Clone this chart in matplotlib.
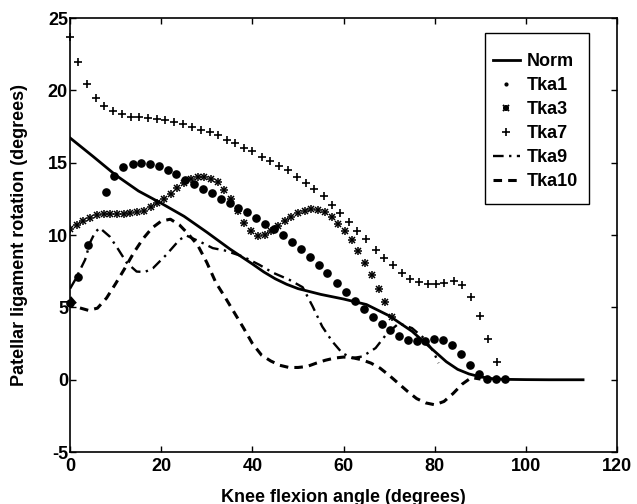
import matplotlib
matplotlib.use("Agg")
import matplotlib.pyplot as plt
from matplotlib.lines import Line2D
from matplotlib.patches import Rectangle

plt.rcParams['font.family'] = ['Liberation Sans', 'DejaVu Sans']
plt.rcParams['axes.unicode_minus'] = False

# ---------------------------------------------------------------------------
# Data (knee flexion angle in degrees, rotation in degrees)
# ---------------------------------------------------------------------------
norm_x = [0, 5, 10, 15, 20, 25, 30, 35, 40, 42.5, 45, 47.5, 50, 55, 60, 65,
          70, 75, 77.5, 80, 82.5, 85, 87.5, 90, 92.5, 95, 100, 105, 110, 112.5]
norm_y = [16.72, 15.45, 14.15, 13.05, 12.2, 11.3, 10.2, 9.05, 8.0, 7.45, 6.98,
          6.6, 6.3, 5.9, 5.58, 5.2, 4.42, 3.35, 2.65, 1.95, 1.25, 0.72, 0.4,
          0.2, 0.08, 0.03, 0.01, 0.0, 0.0, 0.0]

tka1_x = [0, 1.8, 4.0, 7.9, 9.7, 11.6, 13.7, 15.6, 17.5, 19.5, 21.5, 23.3,
          25.1, 27.1, 29.1, 31.2, 33.1, 35.1, 36.9, 38.8, 40.8, 42.8, 44.7,
          46.6, 48.6, 50.6, 52.6, 54.5, 56.4, 58.5, 60.5, 62.5, 64.5, 66.4,
          68.3, 70.1, 72.1, 74.1, 76.0, 77.9, 79.9, 81.8, 83.7, 85.7, 87.6,
          89.6, 91.5, 93.4, 95.4]
tka1_y = [5.3, 7.1, 9.3, 13.0, 14.1, 14.7, 14.9, 15.0, 14.95, 14.75, 14.5,
          14.2, 13.8, 13.5, 13.2, 12.9, 12.5, 12.2, 11.9, 11.6, 11.2, 10.8,
          10.4, 10.0, 9.5, 9.05, 8.5, 7.95, 7.37, 6.7, 6.1, 5.46, 4.88, 4.33,
          3.85, 3.46, 3.04, 2.76, 2.65, 2.7, 2.81, 2.76, 2.42, 1.77, 1.04,
          0.41, 0.07, 0.02, 0.07]

tka3_x = [0.0, 1.47, 2.94, 4.41, 5.88, 7.35, 8.83, 10.3, 11.77, 13.24, 14.71,
          16.18, 17.65, 19.12, 20.59, 22.06, 23.54, 25.0, 26.48, 27.95, 29.42,
          30.89, 32.36, 33.83, 35.3, 36.77, 38.24, 39.71, 41.18, 42.65, 44.12,
          45.59, 47.06, 48.53, 50.0, 51.47, 52.94, 54.41, 55.88, 57.35, 58.82,
          60.29, 61.76, 63.24, 64.71, 66.18, 67.65, 69.12, 70.59]
tka3_y = [10.4, 10.7, 10.95, 11.2, 11.4, 11.45, 11.45, 11.45, 11.45, 11.5,
          11.6, 11.7, 11.95, 12.2, 12.5, 12.85, 13.25, 13.6, 13.85, 14.0, 14.05,
          13.9, 13.65, 13.1, 12.5, 11.7, 10.85, 10.3, 9.95, 10.0, 10.3, 10.6,
          10.95, 11.25, 11.5, 11.7, 11.8, 11.75, 11.6, 11.25, 10.8, 10.3, 9.65,
          8.9, 8.1, 7.25, 6.3, 5.35, 4.35]

tka7_x = [0, 1.8, 3.8, 5.7, 7.5, 9.4, 11.3, 13.3, 15.2, 17.1, 19.0, 20.9,
          22.9, 24.8, 26.8, 28.7, 30.6, 32.5, 34.4, 36.2, 38.1, 40.0, 42.0,
          43.9, 45.8, 47.8, 49.7, 51.7, 53.6, 55.6, 57.5, 59.3, 61.2, 63.0,
          65.0, 67.0, 68.9, 70.8, 72.7, 74.6, 76.5, 78.4, 80.3, 82.1, 84.1,
          86.0, 87.9, 89.8, 91.7, 93.7]
tka7_y = [23.7, 21.96, 20.45, 19.5, 18.9, 18.6, 18.4, 18.2, 18.2, 18.1, 18.0,
          17.95, 17.8, 17.7, 17.5, 17.3, 17.1, 16.9, 16.6, 16.35, 16.05, 15.8,
          15.4, 15.1, 14.8, 14.5, 14.05, 13.6, 13.2, 12.7, 12.1, 11.5, 10.9,
          10.25, 9.7, 9.0, 8.45, 7.9, 7.4, 7.0, 6.75, 6.63, 6.63, 6.72, 6.86,
          6.57, 5.7, 4.42, 2.82, 1.2]

tka9_x = [0, 1.1, 2.2, 3.3, 4.4, 5.5, 6.5, 8.7, 10.6, 12.4, 14.6, 16.4, 18.2,
          21.1, 24.0, 25.5, 28.4, 31.3, 33.9, 37.9, 41.5, 44.5, 48.1, 51.0,
          53.2, 55.3, 57.5, 59.7, 61.9, 64.1, 67.0, 69.5, 72.1, 75.0, 77.5,
          79.7, 80.8]
tka9_y = [6.3, 6.9, 7.6, 8.3, 9.5, 10.2, 10.5, 9.9, 9.0, 8.1, 7.48, 7.45,
          7.72, 8.64, 9.68, 9.97, 9.56, 9.1, 8.94, 8.52, 7.95, 7.4, 6.91, 6.4,
          5.07, 3.68, 2.65, 1.84, 1.5, 1.61, 2.19, 3.2, 3.9, 3.57, 2.9, 1.96,
          1.15]

tka10_x = [0, 2, 4, 6, 8, 10, 12, 14, 16, 18, 20, 22, 24, 26, 28, 30, 32, 34,
           36, 38, 40, 42, 44, 46, 48, 50, 52, 54, 56, 58, 60, 62, 64, 66, 68,
           70, 72, 74, 76, 78, 80, 82, 84, 86, 88, 90]
tka10_y = [5.7, 4.98, 4.8, 4.95, 5.65, 6.65, 7.7, 8.8, 9.75, 10.5, 10.97,
           11.1, 10.7, 10.05, 9.3, 8.1, 6.7, 5.7, 4.65, 3.6, 2.5, 1.7, 1.3, 1.0,
           0.85, 0.85, 0.92, 1.15, 1.35, 1.5, 1.57, 1.52, 1.38, 1.15, 0.8, 0.3,
           -0.25, -0.8, -1.3, -1.6, -1.73, -1.5, -0.95, -0.3, 0.15, 0.05]

x_ticks = [0, 20, 40, 60, 80, 100, 120]
y_ticks = [-5, 0, 5, 10, 15, 20, 25]
labels = ['Norm', 'Tka1', 'Tka3', 'Tka7', 'Tka9', 'Tka10']

# ---------------------------------------------------------------------------
# Plot
# ---------------------------------------------------------------------------
fig = plt.figure(figsize=(6.37, 5.04), dpi=100)
ax = fig.add_axes([0.110, 0.103, 0.859, 0.861])

h_norm, = ax.plot(norm_x, norm_y, color='black', lw=2.0)
ax.plot(tka1_x, tka1_y, ls='none', marker='o', ms=5.2, color='black', clip_on=False)
# Matlab '*' marker = plus and cross on top of each other
ax.plot(tka3_x, tka3_y, ls='none', marker='+', ms=5.5, mew=1.1, color='black')
ax.plot(tka3_x, tka3_y, ls='none', marker='x', ms=4.2, mew=1.1, color='black')
h7, = ax.plot(tka7_x, tka7_y, ls='none', marker='+', ms=5.5, mew=1.2,
              color='black', clip_on=False)
h9, = ax.plot(tka9_x, tka9_y, color='black', lw=1.7, dashes=(4.5, 2.3, 1, 2.3))
h10, = ax.plot(tka10_x, tka10_y, color='black', lw=2.2, dashes=(2.8, 2.0))

ax.set_xlim(0, 120)
ax.set_ylim(-5, 25)
ax.set_xticks(x_ticks)
ax.set_yticks(y_ticks)
ax.tick_params(direction='in', top=True, right=True, length=4, width=1,
               labelsize=13)
ax.tick_params(axis='y', pad=1.5)
ax.tick_params(axis='x', pad=4)
for lab in ax.get_xticklabels() + ax.get_yticklabels():
    lab.set_fontweight('bold')
for sp in ax.spines.values():
    sp.set_linewidth(1.2)

ax.set_xlabel('Knee flexion angle (degrees)', fontsize=13, fontweight='bold', labelpad=10)
ax.set_ylabel('Patellar ligament rotation (degrees)', fontsize=13, fontweight='bold',
              labelpad=14)

# legend box drawn by hand (matlab style padding), entries without frame
ax.add_patch(Rectangle((0.759, 0.571), 0.190, 0.394, transform=ax.transAxes,
                       facecolor='white', edgecolor='black', lw=1.0, zorder=4))
dot_proxy = Line2D([], [], ls='none', marker='o', ms=2, color='black')
plus_proxy = Line2D([], [], ls='none', marker='+', ms=5, mew=1.4, color='black')
cross_proxy = Line2D([], [], ls='none', marker='x', ms=4, mew=1.4, color='black')
leg = ax.legend([h_norm, dot_proxy, (plus_proxy, cross_proxy), h7, h9, h10], labels,
                loc='center', bbox_to_anchor=(0.850, 0.761), frameon=False,
                prop={'size': 13, 'weight': 'bold'}, handlelength=1.5,
                handletextpad=0.35, labelspacing=0.39, borderpad=0.2)
leg.set_zorder(5)

fig.savefig('out.png', dpi=100)
